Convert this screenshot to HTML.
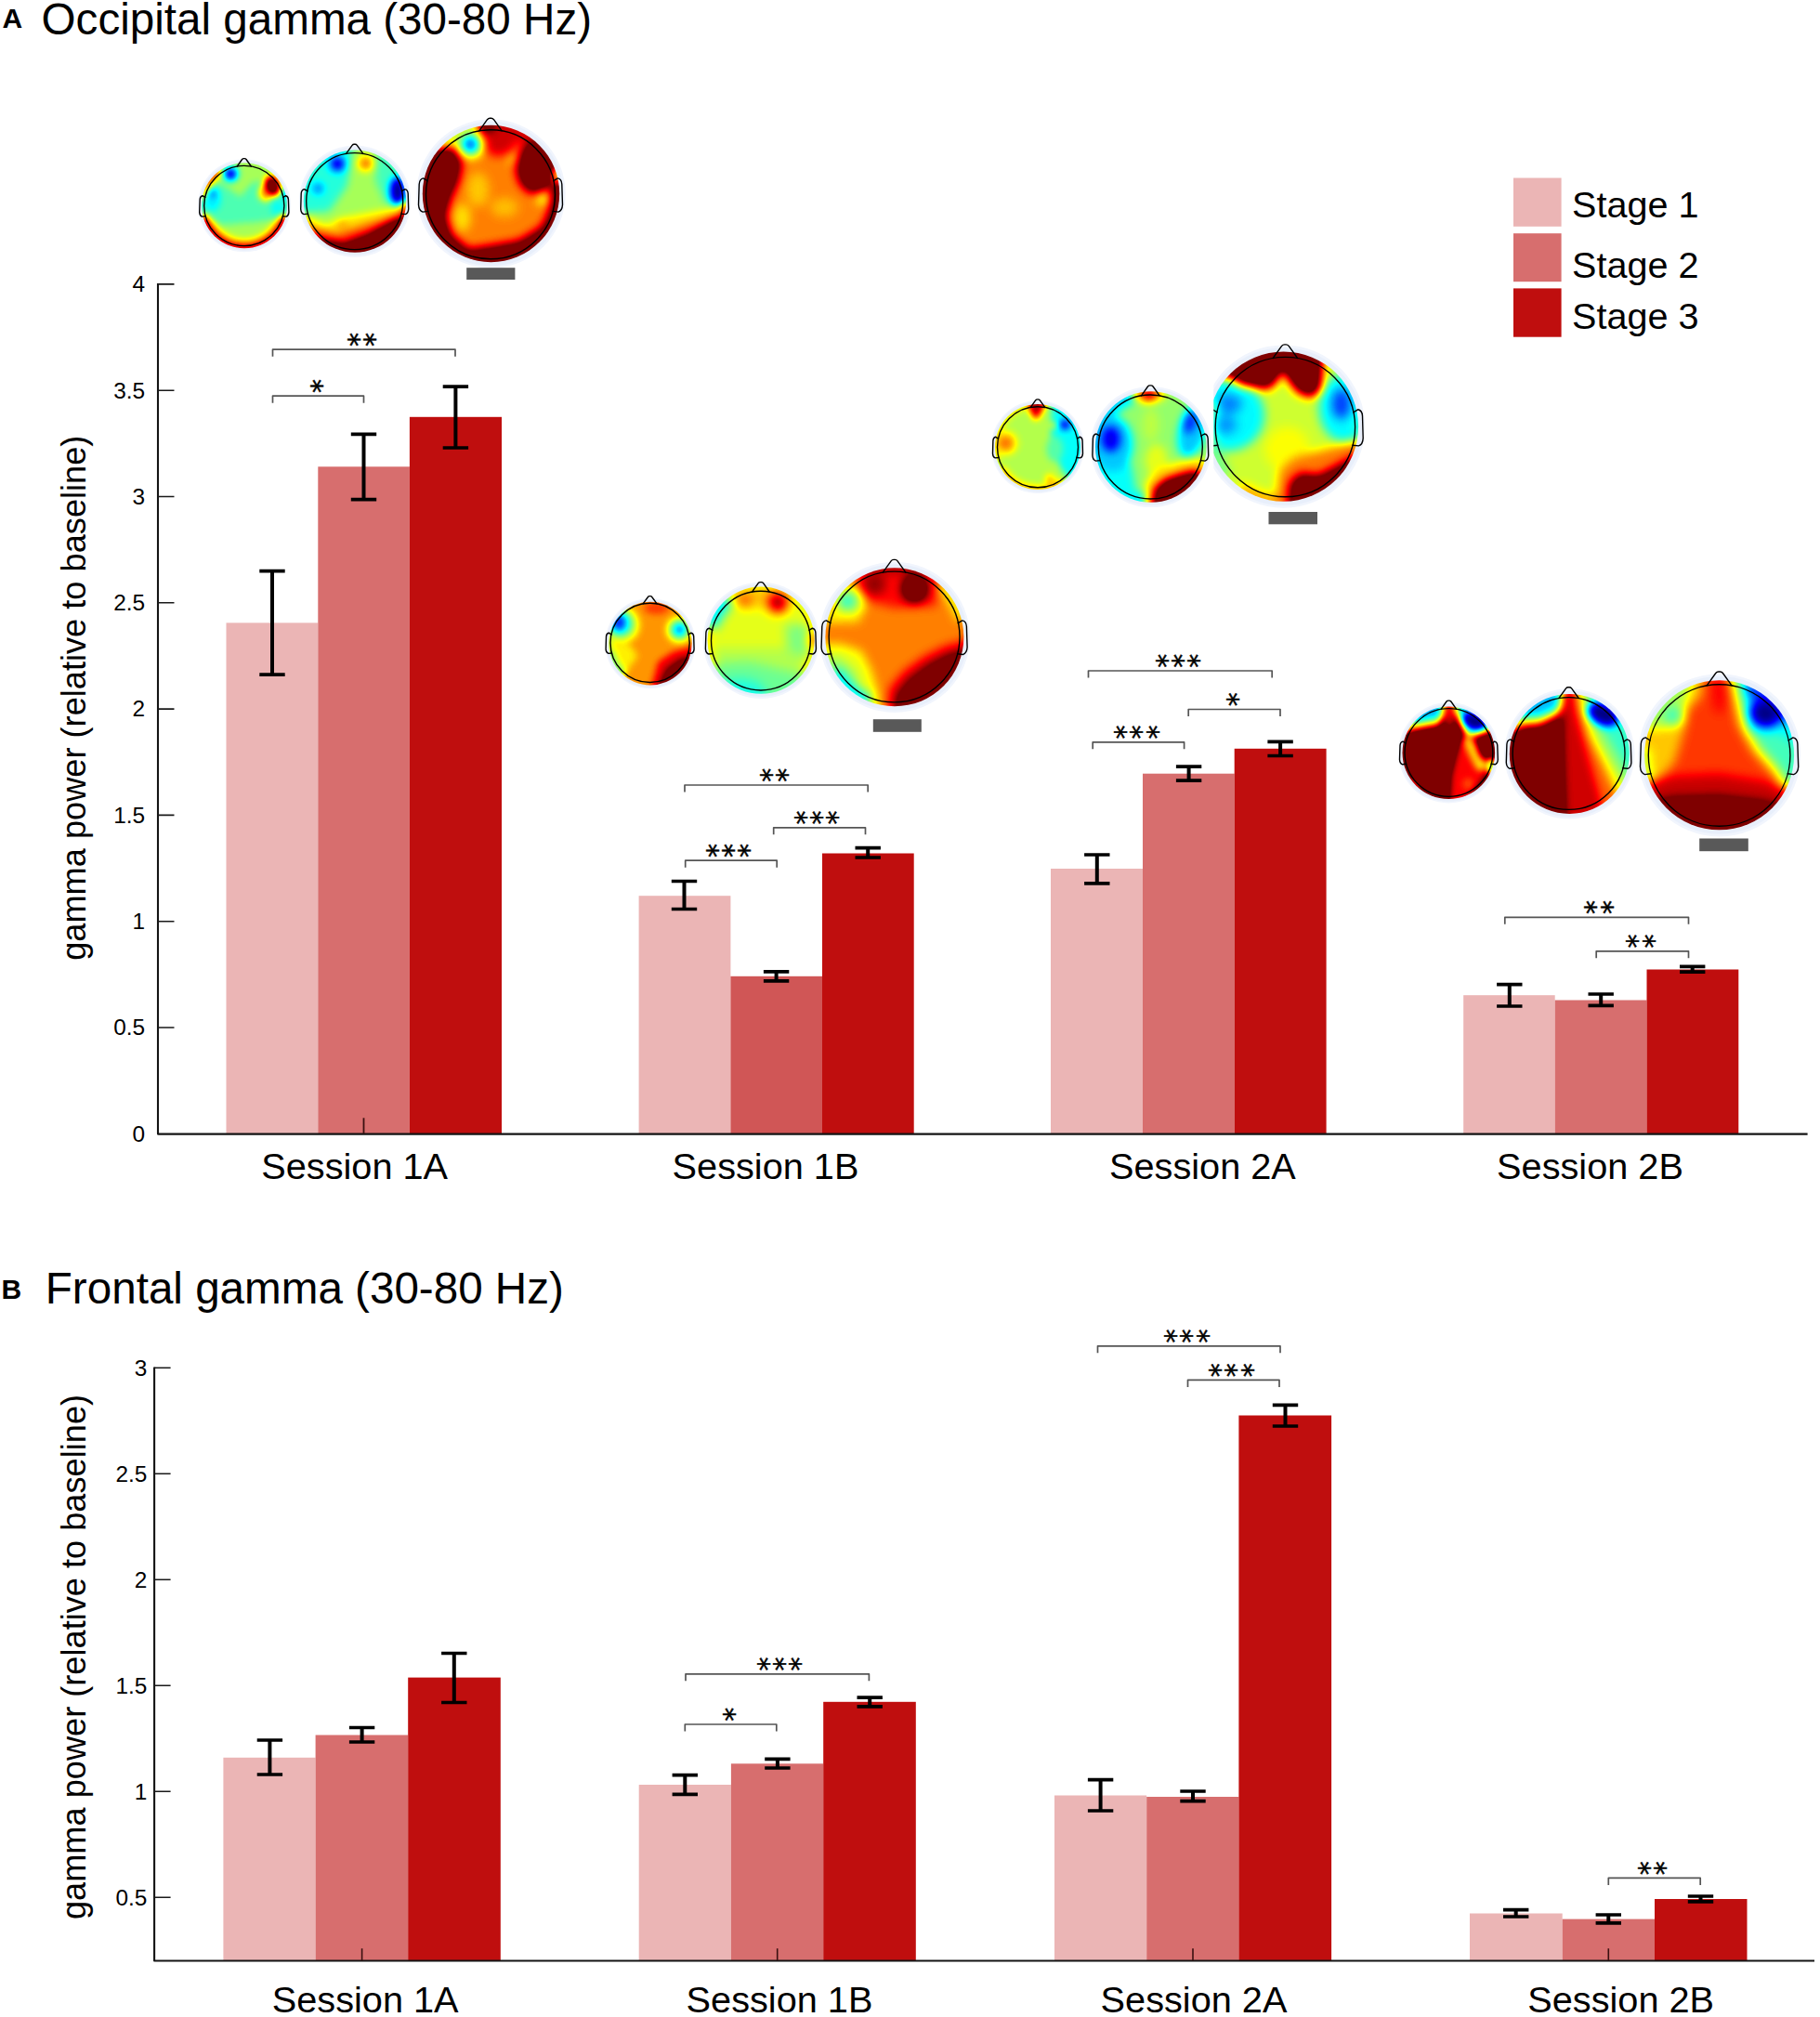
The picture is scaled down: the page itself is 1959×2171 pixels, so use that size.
<!DOCTYPE html>
<html lang="en"><head><meta charset="utf-8"><title>Occipital and frontal gamma</title>
<style>
html,body{margin:0;padding:0;background:#fff}
svg{display:block} text{font-family:'Liberation Sans', sans-serif;fill:#000}
.ttl{font-size:47.6px}.pl{font-size:30px;font-weight:bold}.ses{font-size:39.7px;text-anchor:middle}
.tk{font-size:24.4px;text-anchor:end}.yl{font-size:36.2px;text-anchor:middle}.lg{font-size:39.6px}
.st{font-family:"DejaVu Sans",sans-serif;font-size:30px;letter-spacing:2.1px;stroke:#000;stroke-width:0.5px}
</style></head><body>
<svg width="1959" height="2171" viewBox="0 0 1959 2171">
<rect width="1959" height="2171" fill="#fff"/>
<g id="panelA">
<rect x="243.5" y="670.4" width="98.8" height="549.9" fill="#ebb5b5"/>
<rect x="342.3" y="502.3" width="98.6" height="718.0" fill="#d76e6e"/>
<rect x="440.9" y="448.8" width="99.1" height="771.5" fill="#bf0e0e"/>
<rect x="687.6" y="964.2" width="98.8" height="256.1" fill="#ebb5b5"/>
<rect x="786.4" y="1050.8" width="98.6" height="169.5" fill="#d05656"/>
<rect x="885.0" y="918.5" width="98.7" height="301.8" fill="#bf0e0e"/>
<rect x="1131.0" y="935.0" width="99.0" height="285.3" fill="#ebb5b5"/>
<rect x="1230.0" y="832.7" width="98.7" height="387.6" fill="#d76e6e"/>
<rect x="1328.7" y="805.8" width="98.9" height="414.5" fill="#bf0e0e"/>
<rect x="1575.2" y="1071.2" width="98.5" height="149.1" fill="#ebb5b5"/>
<rect x="1673.7" y="1076.5" width="98.8" height="143.8" fill="#d76e6e"/>
<rect x="1772.5" y="1043.5" width="98.8" height="176.8" fill="#bf0e0e"/>
<path d="M170.0 305.1V1220.6H1945.6" stroke="#141414" stroke-width="2.1" fill="none" stroke-linejoin="round"/>
<path d="M170.0 1106.0h17.5M170.0 991.7h17.5M170.0 877.4h17.5M170.0 763.1h17.5M170.0 648.8h17.5M170.0 534.5h17.5M170.0 420.2h17.5M170.0 305.9h17.5" stroke="#1a1a1a" stroke-width="1.6" fill="none"/>
<path d="M391.5 1220.3v-17" stroke="#3a1010" stroke-width="1.8"/>
<text class="tk" x="156.2" y="1228.6">0</text>
<text class="tk" x="156.2" y="1114.3">0.5</text>
<text class="tk" x="156.2" y="1000.0">1</text>
<text class="tk" x="156.2" y="885.7">1.5</text>
<text class="tk" x="156.2" y="771.4">2</text>
<text class="tk" x="156.2" y="657.1">2.5</text>
<text class="tk" x="156.2" y="542.8">3</text>
<text class="tk" x="156.2" y="428.5">3.5</text>
<text class="tk" x="156.2" y="314.2">4</text>
<path d="M293.0 614.6V726.2" stroke="#000" stroke-width="4.0" fill="none"/>
<path d="M279.3 614.6h27.4M279.3 726.2h27.4" stroke="#000" stroke-width="3.7" fill="none"/>
<path d="M391.5 467.3V537.7" stroke="#000" stroke-width="4.0" fill="none"/>
<path d="M377.8 467.3h27.4M377.8 537.7h27.4" stroke="#000" stroke-width="3.7" fill="none"/>
<path d="M490.4 416.2V482.0" stroke="#000" stroke-width="4.0" fill="none"/>
<path d="M476.7 416.2h27.4M476.7 482.0h27.4" stroke="#000" stroke-width="3.7" fill="none"/>
<path d="M736.5 948.5V978.5" stroke="#000" stroke-width="4.0" fill="none"/>
<path d="M722.8 948.5h27.4M722.8 978.5h27.4" stroke="#000" stroke-width="3.7" fill="none"/>
<path d="M835.6 1045.8V1055.8" stroke="#000" stroke-width="4.0" fill="none"/>
<path d="M821.9 1045.8h27.4M821.9 1055.8h27.4" stroke="#000" stroke-width="3.7" fill="none"/>
<path d="M934.2 912.7V923.0" stroke="#000" stroke-width="4.0" fill="none"/>
<path d="M920.5 912.7h27.4M920.5 923.0h27.4" stroke="#000" stroke-width="3.7" fill="none"/>
<path d="M1180.8 920.0V950.8" stroke="#000" stroke-width="4.0" fill="none"/>
<path d="M1167.1 920.0h27.4M1167.1 950.8h27.4" stroke="#000" stroke-width="3.7" fill="none"/>
<path d="M1279.6 825.2V840.2" stroke="#000" stroke-width="4.0" fill="none"/>
<path d="M1265.9 825.2h27.4M1265.9 840.2h27.4" stroke="#000" stroke-width="3.7" fill="none"/>
<path d="M1378.1 798.3V813.5" stroke="#000" stroke-width="4.0" fill="none"/>
<path d="M1364.4 798.3h27.4M1364.4 813.5h27.4" stroke="#000" stroke-width="3.7" fill="none"/>
<path d="M1624.8 1059.6V1083.0" stroke="#000" stroke-width="4.0" fill="none"/>
<path d="M1611.1 1059.6h27.4M1611.1 1083.0h27.4" stroke="#000" stroke-width="3.7" fill="none"/>
<path d="M1723.2 1070.0V1082.3" stroke="#000" stroke-width="4.0" fill="none"/>
<path d="M1709.5 1070.0h27.4M1709.5 1082.3h27.4" stroke="#000" stroke-width="3.7" fill="none"/>
<path d="M1821.7 1040.4V1046.2" stroke="#000" stroke-width="4.0" fill="none"/>
<path d="M1808.0 1040.4h27.4M1808.0 1046.2h27.4" stroke="#000" stroke-width="3.7" fill="none"/>
<path d="M293.5 383.7V376.2H490.0V383.7" stroke="#555" stroke-width="1.7" fill="none" stroke-linejoin="round"/>
<text class="st" rotate="90" x="366.1" y="358.0">**</text>
<path d="M293.5 433.7V426.2H391.5V433.7" stroke="#555" stroke-width="1.7" fill="none" stroke-linejoin="round"/>
<text class="st" rotate="90" x="325.8" y="408.0">*</text>
<path d="M737.0 852.5V845.0H934.2V852.5" stroke="#555" stroke-width="1.7" fill="none" stroke-linejoin="round"/>
<text class="st" rotate="90" x="809.9" y="826.8">**</text>
<path d="M832.7 898.3V890.8H931.5V898.3" stroke="#555" stroke-width="1.7" fill="none" stroke-linejoin="round"/>
<text class="st" rotate="90" x="847.1" y="872.6">***</text>
<path d="M737.7 933.7V926.2H836.2V933.7" stroke="#555" stroke-width="1.7" fill="none" stroke-linejoin="round"/>
<text class="st" rotate="90" x="752.1" y="908.0">***</text>
<path d="M1171.5 729.5V722.0H1369.2V729.5" stroke="#555" stroke-width="1.7" fill="none" stroke-linejoin="round"/>
<text class="st" rotate="90" x="1235.6" y="703.8">***</text>
<path d="M1279.2 771.0V763.5H1378.0V771.0" stroke="#555" stroke-width="1.7" fill="none" stroke-linejoin="round"/>
<text class="st" rotate="90" x="1311.7" y="745.3">*</text>
<path d="M1176.2 806.3V798.8H1274.6V806.3" stroke="#555" stroke-width="1.7" fill="none" stroke-linejoin="round"/>
<text class="st" rotate="90" x="1191.3" y="780.6">***</text>
<path d="M1619.8 994.8V987.3H1817.5V994.8" stroke="#555" stroke-width="1.7" fill="none" stroke-linejoin="round"/>
<text class="st" rotate="90" x="1697.4" y="969.1">**</text>
<path d="M1718.2 1031.3V1023.8H1817.5V1031.3" stroke="#555" stroke-width="1.7" fill="none" stroke-linejoin="round"/>
<text class="st" rotate="90" x="1742.4" y="1005.6">**</text>
<text class="ses" x="381.7" y="1269.3">Session 1A</text>
<text class="ses" x="824.0" y="1269.3">Session 1B</text>
<text class="ses" x="1294.4" y="1269.3">Session 2A</text>
<text class="ses" x="1711.5" y="1269.3">Session 2B</text>
<text class="yl" transform="translate(91.5 751.2) rotate(-90)">gamma power (relative to baseline)</text>
<text class="pl" x="2.5" y="30.3">A</text>
<text class="ttl" x="44.6" y="37.2">Occipital gamma (30-80 Hz)</text>
<rect x="1629.0" y="191.5" width="51.6" height="52.3" fill="#ebb5b5"/>
<rect x="1629.0" y="251.2" width="51.6" height="52.0" fill="#d76e6e"/>
<rect x="1629.0" y="310.4" width="51.6" height="52.3" fill="#bf0e0e"/>
<text class="lg" x="1692" y="234.2">Stage 1</text>
<text class="lg" x="1692" y="299.2">Stage 2</text>
<text class="lg" x="1692" y="353.5">Stage 3</text>
</g>
<defs>
<filter id="fa1" filterUnits="userSpaceOnUse" x="189" y="148" width="147" height="147" color-interpolation-filters="sRGB"><feGaussianBlur stdDeviation="3.68"/><feComponentTransfer><feFuncR type="table" tableValues="0 0 0 0 0.5 1 1 1 0.5 0.5"/><feFuncG type="table" tableValues="0 0 0.5 1 1 1 0.5 0 0 0"/><feFuncB type="table" tableValues="0.52 1 1 1 0.5 0 0 0 0 0"/><feFuncA type="linear" slope="4" intercept="0"/></feComponentTransfer></filter>
<clipPath id="ca1"><circle cx="263.0" cy="221.2" r="46.0"/></clipPath>
<filter id="fa2" filterUnits="userSpaceOnUse" x="294" y="128" width="177" height="177" color-interpolation-filters="sRGB"><feGaussianBlur stdDeviation="4.42"/><feComponentTransfer><feFuncR type="table" tableValues="0 0 0 0 0.5 1 1 1 0.5 0.5"/><feFuncG type="table" tableValues="0 0 0.5 1 1 1 0.5 0 0 0"/><feFuncB type="table" tableValues="0.52 1 1 1 0.5 0 0 0 0 0"/><feFuncA type="linear" slope="4" intercept="0"/></feComponentTransfer></filter>
<clipPath id="ca2"><circle cx="382.0" cy="216.6" r="55.2"/></clipPath>
<filter id="fa3" filterUnits="userSpaceOnUse" x="411" y="91" width="236" height="236" color-interpolation-filters="sRGB"><feGaussianBlur stdDeviation="5.16"/><feComponentTransfer><feFuncR type="table" tableValues="0 0 0 0 0.5 1 1 1 0.5 0.5"/><feFuncG type="table" tableValues="0 0 0.5 1 1 1 0.5 0 0 0"/><feFuncB type="table" tableValues="0.52 1 1 1 0.5 0 0 0 0 0"/><feFuncA type="linear" slope="4" intercept="0"/></feComponentTransfer></filter>
<clipPath id="ca3"><circle cx="528.5" cy="208.5" r="73.7"/></clipPath>
<filter id="fb1" filterUnits="userSpaceOnUse" x="628" y="621" width="143" height="143" color-interpolation-filters="sRGB"><feGaussianBlur stdDeviation="3.81"/><feComponentTransfer><feFuncR type="table" tableValues="0 0 0 0 0.5 1 1 1 0.5 0.5"/><feFuncG type="table" tableValues="0 0 0.5 1 1 1 0.5 0 0 0"/><feFuncB type="table" tableValues="0.52 1 1 1 0.5 0 0 0 0 0"/><feFuncA type="linear" slope="4" intercept="0"/></feComponentTransfer></filter>
<clipPath id="cb1"><circle cx="700.0" cy="692.6" r="44.8"/></clipPath>
<filter id="fb2" filterUnits="userSpaceOnUse" x="727" y="597" width="184" height="184" color-interpolation-filters="sRGB"><feGaussianBlur stdDeviation="5.76"/><feComponentTransfer><feFuncR type="table" tableValues="0 0 0 0 0.5 1 1 1 0.5 0.5"/><feFuncG type="table" tableValues="0 0 0.5 1 1 1 0.5 0 0 0"/><feFuncB type="table" tableValues="0.52 1 1 1 0.5 0 0 0 0 0"/><feFuncA type="linear" slope="4" intercept="0"/></feComponentTransfer></filter>
<clipPath id="cb2"><circle cx="819.1" cy="689.2" r="57.6"/></clipPath>
<filter id="fb3" filterUnits="userSpaceOnUse" x="844" y="567" width="238" height="238" color-interpolation-filters="sRGB"><feGaussianBlur stdDeviation="5.22"/><feComponentTransfer><feFuncR type="table" tableValues="0 0 0 0 0.5 1 1 1 0.5 0.5"/><feFuncG type="table" tableValues="0 0 0.5 1 1 1 0.5 0 0 0"/><feFuncB type="table" tableValues="0.52 1 1 1 0.5 0 0 0 0 0"/><feFuncA type="linear" slope="4" intercept="0"/></feComponentTransfer></filter>
<clipPath id="cb3"><circle cx="962.9" cy="685.8" r="74.5"/></clipPath>
<filter id="fc1" filterUnits="userSpaceOnUse" x="1043" y="407" width="147" height="147" color-interpolation-filters="sRGB"><feGaussianBlur stdDeviation="3.91"/><feComponentTransfer><feFuncR type="table" tableValues="0 0 0 0 0.5 1 1 1 0.5 0.5"/><feFuncG type="table" tableValues="0 0 0.5 1 1 1 0.5 0 0 0"/><feFuncB type="table" tableValues="0.52 1 1 1 0.5 0 0 0 0 0"/><feFuncA type="linear" slope="4" intercept="0"/></feComponentTransfer></filter>
<clipPath id="cc1"><circle cx="1117.0" cy="481.0" r="46.0"/></clipPath>
<filter id="fc2" filterUnits="userSpaceOnUse" x="1143" y="385" width="191" height="191" color-interpolation-filters="sRGB"><feGaussianBlur stdDeviation="4.78"/><feComponentTransfer><feFuncR type="table" tableValues="0 0 0 0 0.5 1 1 1 0.5 0.5"/><feFuncG type="table" tableValues="0 0 0.5 1 1 1 0.5 0 0 0"/><feFuncB type="table" tableValues="0.52 1 1 1 0.5 0 0 0 0 0"/><feFuncA type="linear" slope="4" intercept="0"/></feComponentTransfer></filter>
<clipPath id="cc2"><circle cx="1238.8" cy="481.0" r="59.8"/></clipPath>
<filter id="fc3" filterUnits="userSpaceOnUse" x="1253" y="330" width="258" height="258" color-interpolation-filters="sRGB"><feGaussianBlur stdDeviation="5.24"/><feComponentTransfer><feFuncR type="table" tableValues="0 0 0 0 0.5 1 1 1 0.5 0.5"/><feFuncG type="table" tableValues="0 0 0.5 1 1 1 0.5 0 0 0"/><feFuncB type="table" tableValues="0.52 1 1 1 0.5 0 0 0 0 0"/><feFuncA type="linear" slope="4" intercept="0"/></feComponentTransfer></filter>
<clipPath id="kc3"><rect x="1306.3" y="368" width="181" height="181"/></clipPath>
<clipPath id="cc3"><circle cx="1381.5" cy="459.1" r="80.6"/></clipPath>
<filter id="fd1" filterUnits="userSpaceOnUse" x="1480" y="731" width="159" height="159" color-interpolation-filters="sRGB"><feGaussianBlur stdDeviation="3.49"/><feComponentTransfer><feFuncR type="table" tableValues="0 0 0 0 0.5 1 1 1 0.5 0.5"/><feFuncG type="table" tableValues="0 0 0.5 1 1 1 0.5 0 0 0"/><feFuncB type="table" tableValues="0.52 1 1 1 0.5 0 0 0 0 0"/><feFuncA type="linear" slope="4" intercept="0"/></feComponentTransfer></filter>
<clipPath id="cd1"><circle cx="1559.3" cy="810.3" r="49.8"/></clipPath>
<filter id="fd2" filterUnits="userSpaceOnUse" x="1586" y="708" width="206" height="206" color-interpolation-filters="sRGB"><feGaussianBlur stdDeviation="4.84"/><feComponentTransfer><feFuncR type="table" tableValues="0 0 0 0 0.5 1 1 1 0.5 0.5"/><feFuncG type="table" tableValues="0 0 0.5 1 1 1 0.5 0 0 0"/><feFuncB type="table" tableValues="0.52 1 1 1 0.5 0 0 0 0 0"/><feFuncA type="linear" slope="4" intercept="0"/></feComponentTransfer></filter>
<clipPath id="cd2"><circle cx="1689.3" cy="811.4" r="64.5"/></clipPath>
<filter id="fd3" filterUnits="userSpaceOnUse" x="1722" y="684" width="258" height="258" color-interpolation-filters="sRGB"><feGaussianBlur stdDeviation="5.64"/><feComponentTransfer><feFuncR type="table" tableValues="0 0 0 0 0.5 1 1 1 0.5 0.5"/><feFuncG type="table" tableValues="0 0 0.5 1 1 1 0.5 0 0 0"/><feFuncB type="table" tableValues="0.52 1 1 1 0.5 0 0 0 0 0"/><feFuncA type="linear" slope="4" intercept="0"/></feComponentTransfer></filter>
<clipPath id="cd3"><circle cx="1850.6" cy="812.8" r="80.5"/></clipPath>
</defs>
<g id="heads">
<circle cx="263.0" cy="221.2" r="50.0" fill="#f1f5fd"/>
<circle cx="263.0" cy="221.2" r="48.5" fill="#e8effb"/>
<g clip-path="url(#ca1)"><g filter="url(#fa1)">
<rect x="196.3" y="154.5" width="133.4" height="133.4" fill="#666666"/>
<polygon points="203.2,161.4 322.8,161.4 322.8,198.2 272.2,195.9 258.4,212.0 240.0,198.2 203.2,193.6" fill="#7a7a7a"/>
<polygon points="203.2,235.0 240.0,241.9 272.2,239.6 322.8,232.7 322.8,281.0 203.2,281.0" fill="#7a7a7a"/>
<path d="M307.4 233.1A46.0 46.0 0 0 1 218.6 233.1" fill="none" stroke="#dcdcdc" stroke-width="10.1"/>
<path d="M298.4 237.7A39.1 39.1 0 0 1 227.6 237.7" fill="none" stroke="#9a9a9a" stroke-width="6.0"/>
<path d="M217.7 213.2A46.0 46.0 0 0 1 236.6 183.5" fill="none" stroke="#c1c1c1" stroke-width="7.4"/>
<circle cx="248.3" cy="187.2" r="9.2" fill="#525252"/>
<circle cx="248.3" cy="187.2" r="5.5" fill="#0e0e0e"/>
<ellipse cx="228.5" cy="214.3" rx="9.2" ry="12.9" fill="#525252"/>
<circle cx="229.4" cy="208.8" r="4.6" fill="#3b3b3b"/>
<ellipse cx="286.0" cy="207.4" rx="7.4" ry="9.2" fill="#a3a3a3"/>
<ellipse cx="293.4" cy="200.0" rx="7.4" ry="10.6" fill="#ffffff" transform="rotate(-20 293.4 200.0)"/>
<circle cx="307.6" cy="209.7" r="4.1" fill="#393939"/>
<ellipse cx="298.9" cy="223.5" rx="7.4" ry="8.3" fill="#565656"/>
</g></g>
<g fill="none" stroke="#000" stroke-width="1.4" stroke-linejoin="round" stroke-linecap="round"><circle cx="262.8" cy="221.5" r="43.1"/><path d="M255.3 179.0L260.6 171.5Q261.3 170.6 262.4 170.6L263.2 170.6Q264.3 170.6 265.0 171.5L270.3 179.0M220.8 212.4L218.0 210.7Q215.4 211.2 215.2 214.6L214.7 228.4Q215.0 232.3 217.5 233.1L221.2 232.7M304.8 212.4L307.6 210.7Q310.2 211.2 310.4 214.6L310.9 228.4Q310.6 232.3 308.1 233.1L304.4 232.7"/></g>
<circle cx="382.0" cy="216.6" r="60.1" fill="#f1f5fd"/>
<circle cx="382.0" cy="216.6" r="58.2" fill="#e8effb"/>
<g clip-path="url(#ca2)"><g filter="url(#fa2)">
<rect x="302.0" y="136.6" width="160.1" height="160.1" fill="#7a7a7a"/>
<polygon points="310.2,144.8 382.0,144.8 373.7,200.0 354.4,227.6 310.2,230.4" fill="#5d5d5d"/>
<polygon points="406.8,144.8 404.1,194.5 415.1,219.4 453.8,216.6 453.8,144.8" fill="#646464"/>
<polygon points="310.2,227.6 330.1,232.1 350.0,242.5 369.9,234.3 396.4,229.3 416.2,225.4 453.8,217.7 453.8,288.4 310.2,288.4" fill="#969696"/>
<polygon points="321.3,241.4 336.7,245.9 363.2,251.9 389.7,243.6 416.2,234.8 453.8,222.1 453.8,288.4 321.3,288.4" fill="#bababa"/>
<polygon points="332.3,250.8 343.4,257.4 369.9,261.9 396.4,251.9 422.8,237.6 453.8,224.9 453.8,288.4 332.3,288.4" fill="#ffffff"/>
<circle cx="368.2" cy="241.4" r="4.4" fill="#a8a8a8"/>
<circle cx="363.2" cy="176.3" r="11.0" fill="#4b4b4b"/>
<circle cx="363.2" cy="176.3" r="6.6" fill="#0b0b0b"/>
<circle cx="393.6" cy="175.8" r="9.9" fill="#919191"/>
<circle cx="393.6" cy="175.8" r="5.5" fill="#b5b5b5"/>
<circle cx="342.3" cy="202.8" r="6.1" fill="#363636"/>
<ellipse cx="427.8" cy="205.6" rx="7.7" ry="14.9" fill="#000000"/>
<circle cx="435.5" cy="223.2" r="4.4" fill="#cccccc"/>
</g></g>
<g fill="none" stroke="#000" stroke-width="1.4" stroke-linejoin="round" stroke-linecap="round"><circle cx="381.7" cy="216.6" r="52.0"/><path d="M372.6 165.4L379.1 156.3Q379.9 155.2 381.2 155.2L382.2 155.2Q383.5 155.2 384.3 156.3L390.8 165.4M331.0 205.7L327.6 203.6Q324.5 204.1 324.2 208.3L323.7 224.9Q324.0 229.6 327.1 230.6L331.5 230.1M432.4 205.7L435.8 203.6Q438.9 204.1 439.2 208.3L439.7 224.9Q439.4 229.6 436.3 230.6L431.9 230.1"/></g>
<circle cx="528.5" cy="208.5" r="80.2" fill="#f1f5fd"/>
<circle cx="528.5" cy="208.5" r="77.8" fill="#e8effb"/>
<g clip-path="url(#ca3)"><g filter="url(#fa3)">
<rect x="421.6" y="101.6" width="213.7" height="213.7" fill="#aaaaaa"/>
<circle cx="528.5" cy="208.5" r="73.7" fill="none" stroke="#ffffff" stroke-width="16.2"/>
<path d="M470.4 163.1A73.7 73.7 0 0 1 515.7 135.9" fill="none" stroke="#888888" stroke-width="22.1"/>
<path d="M531.1 134.8A73.7 73.7 0 0 1 588.9 166.2" fill="none" stroke="#d1d1d1" stroke-width="20.6"/>
<polygon points="432.7,164.3 487.2,158.4 496.8,174.6 493.1,194.5 484.3,213.7 479.1,233.6 485.8,253.5 504.2,268.9 432.7,304.3" fill="#ffffff"/>
<polygon points="484.3,260.1 504.2,268.9 528.5,265.2 558.7,260.1 583.0,245.3 594.8,229.1 624.3,230.6 624.3,304.3 484.3,304.3" fill="#ffffff"/>
<ellipse cx="576.4" cy="180.5" rx="19.9" ry="27.3" fill="#ffffff"/>
<ellipse cx="537.3" cy="153.2" rx="18.4" ry="14.7" fill="#d1d1d1"/>
<ellipse cx="514.5" cy="204.1" rx="11.8" ry="18.4" fill="#9a9a9a"/>
<ellipse cx="497.5" cy="234.3" rx="8.8" ry="14.7" fill="#939393"/>
<ellipse cx="543.2" cy="223.2" rx="14.7" ry="10.3" fill="#9c9c9c"/>
<circle cx="506.4" cy="155.4" r="15.5" fill="#838383"/>
<circle cx="506.4" cy="155.4" r="10.3" fill="#525252"/>
<circle cx="506.4" cy="155.4" r="5.9" fill="#1b1b1b"/>
<circle cx="552.1" cy="170.2" r="6.6" fill="#969696"/>
<circle cx="584.5" cy="213.7" r="9.6" fill="#a3a3a3"/>
<circle cx="584.5" cy="213.7" r="5.2" fill="#7d7d7d"/>
<ellipse cx="600.0" cy="188.6" rx="3.7" ry="8.8" fill="#2d2d2d"/>
</g></g>
<g fill="none" stroke="#000" stroke-width="1.4" stroke-linejoin="round" stroke-linecap="round"><circle cx="528.0" cy="209.3" r="69.5"/><path d="M515.8 140.8L524.5 128.7Q525.6 127.3 527.3 127.3L528.7 127.3Q530.4 127.3 531.5 128.7L540.2 140.8M460.2 194.7L455.7 191.9Q451.6 192.6 451.2 198.2L450.5 220.4Q450.9 226.7 455.0 228.1L460.9 227.4M595.8 194.7L600.3 191.9Q604.5 192.6 604.8 198.2L605.5 220.4Q605.1 226.7 601.0 228.1L595.1 227.4"/></g>
<circle cx="700.0" cy="692.6" r="48.7" fill="#f1f5fd"/>
<circle cx="700.0" cy="692.6" r="47.3" fill="#e8effb"/>
<g clip-path="url(#cb1)"><g filter="url(#fb1)">
<rect x="635.0" y="627.6" width="129.9" height="129.9" fill="#a5a5a5"/>
<polygon points="641.8,692.6 677.6,693.5 686.6,706.0 673.1,724.0 641.8,737.4" fill="#919191"/>
<path d="M671.2 726.9A44.8 44.8 0 0 1 655.9 700.4" fill="none" stroke="#717171" stroke-width="9.9"/>
<path d="M655.4 696.5A44.8 44.8 0 0 1 657.9 677.3" fill="none" stroke="#717171" stroke-width="6.3"/>
<ellipse cx="668.6" cy="672.4" rx="20.2" ry="20.2" fill="#888888"/>
<ellipse cx="667.7" cy="671.5" rx="13.4" ry="13.4" fill="#5b5b5b"/>
<ellipse cx="666.4" cy="670.2" rx="6.7" ry="8.1" fill="#242424"/>
<ellipse cx="731.4" cy="677.8" rx="14.8" ry="14.8" fill="#888888"/>
<ellipse cx="731.4" cy="677.8" rx="9.9" ry="9.9" fill="#5f5f5f"/>
<circle cx="731.4" cy="677.8" r="4.5" fill="#363636"/>
<ellipse cx="706.7" cy="654.5" rx="13.4" ry="6.7" fill="#bababa"/>
<polygon points="697.8,750.8 708.5,712.3 724.6,701.6 758.2,692.6 758.2,750.8" fill="#cccccc"/>
<polygon points="704.5,750.8 717.9,720.4 733.6,709.6 758.2,706.0 758.2,750.8" fill="#f9f9f9"/>
</g></g>
<g fill="none" stroke="#000" stroke-width="1.4" stroke-linejoin="round" stroke-linecap="round"><circle cx="699.6" cy="691.9" r="42.6"/><path d="M692.1 649.9L697.5 642.5Q698.1 641.6 699.2 641.6L700.0 641.6Q701.1 641.6 701.7 642.5L707.1 649.9M658.1 683.0L655.3 681.2Q652.7 681.7 652.5 685.1L652.1 698.7Q652.3 702.5 654.9 703.4L658.5 703.0M741.1 683.0L743.9 681.2Q746.5 681.7 746.7 685.1L747.1 698.7Q746.9 702.5 744.3 703.4L740.7 703.0"/></g>
<circle cx="819.1" cy="689.2" r="62.7" fill="#f1f5fd"/>
<circle cx="819.1" cy="689.2" r="60.8" fill="#e8effb"/>
<g clip-path="url(#cb2)"><g filter="url(#fb2)">
<rect x="735.6" y="605.7" width="167.0" height="167.0" fill="#888888"/>
<polygon points="744.2,697.8 894.0,697.8 894.0,764.1 744.2,764.1" fill="#7d7d7d"/>
<polygon points="744.2,715.1 807.6,712.2 853.7,723.8 894.0,741.0 894.0,764.1 744.2,764.1" fill="#6d6d6d"/>
<ellipse cx="796.1" cy="746.8" rx="28.8" ry="16.1" fill="#5b5b5b"/>
<polygon points="845.0,671.9 870.9,671.9 870.9,706.5 847.9,700.7" fill="#717171"/>
<path d="M763.5 674.3A57.6 57.6 0 0 1 783.6 643.8" fill="none" stroke="#525252" stroke-width="18.4"/>
<path d="M769.2 718.0A57.6 57.6 0 0 1 763.5 674.3" fill="none" stroke="#969696" stroke-width="6.9"/>
<path d="M869.0 660.4A57.6 57.6 0 0 1 866.3 722.2" fill="none" stroke="#9a9a9a" stroke-width="6.9"/>
<ellipse cx="819.1" cy="643.1" rx="35.7" ry="11.5" fill="#9a9a9a"/>
<circle cx="801.8" cy="646.6" r="7.5" fill="#b5b5b5"/>
<ellipse cx="837.0" cy="648.3" rx="13.8" ry="13.8" fill="#a8a8a8"/>
<ellipse cx="837.0" cy="648.3" rx="8.1" ry="8.6" fill="#e7e7e7"/>
<circle cx="875.5" cy="689.2" r="4.6" fill="#d7d7d7"/>
</g></g>
<g fill="none" stroke="#000" stroke-width="1.4" stroke-linejoin="round" stroke-linecap="round"><circle cx="818.9" cy="689.6" r="53.4"/><path d="M809.6 637.0L816.2 627.7Q817.0 626.6 818.4 626.6L819.4 626.6Q820.8 626.6 821.6 627.7L828.2 637.0M766.8 678.4L763.4 676.2Q760.2 676.8 759.9 681.1L759.4 698.1Q759.6 703.0 762.8 704.0L767.4 703.5M871.0 678.4L874.4 676.2Q877.6 676.8 877.9 681.1L878.4 698.1Q878.2 703.0 875.0 704.0L870.4 703.5"/></g>
<circle cx="962.9" cy="685.8" r="81.1" fill="#f1f5fd"/>
<circle cx="962.9" cy="685.8" r="78.6" fill="#e8effb"/>
<g clip-path="url(#cb3)"><g filter="url(#fb3)">
<rect x="854.9" y="577.8" width="216.0" height="216.0" fill="#aaaaaa"/>
<path d="M982.2 613.8A74.5 74.5 0 0 1 1034.9 666.5" fill="none" stroke="#8d8d8d" stroke-width="11.9"/>
<polygon points="918.2,588.9 925.6,644.8 962.9,654.5 1007.6,652.3 1015.0,588.9" fill="#c5c5c5"/>
<ellipse cx="913.7" cy="648.5" rx="17.9" ry="17.9" fill="#838383"/>
<ellipse cx="912.2" cy="647.1" rx="8.9" ry="9.7" fill="#5f5f5f"/>
<polygon points="866.0,656.0 925.6,659.7 925.6,669.4 866.0,670.9" fill="#8f8f8f"/>
<polygon points="866.0,693.2 904.8,693.2 927.1,700.7 938.3,723.0 946.5,752.8 944.3,782.6 866.0,782.6" fill="#8a8a8a"/>
<polygon points="866.0,709.6 903.3,706.7 921.9,723.0 931.6,782.6 866.0,782.6" fill="#767676"/>
<path d="M935.0 754.9A74.5 74.5 0 0 1 898.4 723.0" fill="none" stroke="#525252" stroke-width="14.9"/>
<ellipse cx="984.5" cy="633.6" rx="14.2" ry="14.9" fill="#ffffff"/>
<ellipse cx="941.3" cy="629.2" rx="12.7" ry="11.2" fill="#dedede"/>
<ellipse cx="962.9" cy="611.3" rx="37.2" ry="7.5" fill="#d7d7d7"/>
<polygon points="954.0,782.6 957.7,740.9 972.6,723.0 994.9,706.7 1017.3,695.5 1059.8,684.3 1059.8,782.6" fill="#d1d1d1"/>
<polygon points="965.1,782.6 966.6,749.9 979.3,733.5 1000.1,717.8 1021.0,706.7 1059.8,695.5 1059.8,782.6" fill="#ffffff"/>
</g></g>
<g fill="none" stroke="#000" stroke-width="1.4" stroke-linejoin="round" stroke-linecap="round"><circle cx="962.6" cy="685.5" r="70.4"/><path d="M950.3 616.2L959.1 603.8Q960.1 602.4 961.9 602.4L963.3 602.4Q965.1 602.4 966.1 603.8L974.9 616.2M894.0 670.7L889.4 667.9Q885.2 668.6 884.8 674.2L884.1 696.8Q884.5 703.1 888.7 704.5L894.7 703.8M1031.2 670.7L1035.8 667.9Q1040.0 668.6 1040.4 674.2L1041.1 696.8Q1040.7 703.1 1036.5 704.5L1030.5 703.8"/></g>
<circle cx="1117.0" cy="481.0" r="50.0" fill="#f1f5fd"/>
<circle cx="1117.0" cy="481.0" r="48.5" fill="#e8effb"/>
<g clip-path="url(#cc1)"><g filter="url(#fc1)">
<rect x="1050.3" y="414.3" width="133.4" height="133.4" fill="#7d7d7d"/>
<polygon points="1133.1,421.2 1130.8,462.6 1133.1,485.6 1144.6,508.6 1158.4,522.4 1176.8,522.4 1176.8,421.2" fill="#565656"/>
<ellipse cx="1135.4" cy="483.3" rx="9.2" ry="13.8" fill="#686868"/>
<circle cx="1146.4" cy="457.1" r="5.5" fill="#171717"/>
<polygon points="1103.2,421.2 1107.8,440.5 1115.2,452.5 1122.5,440.5 1128.5,421.2" fill="#dcdcdc"/>
<circle cx="1082.5" cy="476.9" r="13.8" fill="#8f8f8f"/>
<circle cx="1082.5" cy="476.9" r="7.8" fill="#acacac"/>
<path d="M1143.4 518.7A46.0 46.0 0 0 1 1077.2 504.0" fill="none" stroke="#9f9f9f" stroke-width="8.3"/>
<path d="M1073.8 496.7A46.0 46.0 0 0 1 1109.0 435.7" fill="none" stroke="#969696" stroke-width="5.5"/>
<circle cx="1129.9" cy="515.5" r="5.1" fill="#9f9f9f"/>
<circle cx="1134.0" cy="458.0" r="3.2" fill="#8d8d8d"/>
</g></g>
<g fill="none" stroke="#000" stroke-width="1.4" stroke-linejoin="round" stroke-linecap="round"><circle cx="1117.0" cy="481.2" r="43.5"/><path d="M1109.4 438.4L1114.8 430.7Q1115.5 429.9 1116.6 429.9L1117.4 429.9Q1118.5 429.9 1119.2 430.7L1124.6 438.4M1074.6 472.1L1071.8 470.3Q1069.2 470.8 1068.9 474.2L1068.5 488.2Q1068.7 492.1 1071.3 492.9L1075.0 492.5M1159.4 472.1L1162.2 470.3Q1164.8 470.8 1165.1 474.2L1165.5 488.2Q1165.3 492.1 1162.7 492.9L1159.0 492.5"/></g>
<circle cx="1238.8" cy="481.0" r="65.1" fill="#f1f5fd"/>
<circle cx="1238.8" cy="481.0" r="63.1" fill="#e8effb"/>
<g clip-path="url(#cc2)"><g filter="url(#fc2)">
<rect x="1152.1" y="394.3" width="173.4" height="173.4" fill="#767676"/>
<path d="M1233.6 540.6A59.8 59.8 0 0 1 1218.3 424.8" fill="none" stroke="#4b4b4b" stroke-width="17.9"/>
<polygon points="1161.1,493.0 1217.9,498.9 1226.8,558.7 1161.1,558.7" fill="#565656"/>
<ellipse cx="1198.1" cy="478.0" rx="21.5" ry="29.9" fill="#494949"/>
<ellipse cx="1195.7" cy="472.6" rx="10.2" ry="13.8" fill="#171717"/>
<ellipse cx="1283.6" cy="463.1" rx="14.9" ry="29.9" fill="#494949" transform="rotate(15 1283.6 463.1)"/>
<ellipse cx="1280.7" cy="454.7" rx="6.0" ry="12.0" fill="#202020" transform="rotate(15 1280.7 454.7)"/>
<ellipse cx="1244.8" cy="495.9" rx="12.0" ry="17.9" fill="#888888"/>
<ellipse cx="1238.8" cy="457.1" rx="9.0" ry="17.9" fill="#7f7f7f"/>
<ellipse cx="1236.4" cy="424.2" rx="17.9" ry="9.0" fill="#9f9f9f"/>
<circle cx="1236.4" cy="424.2" r="7.2" fill="#d7d7d7"/>
<polygon points="1229.8,558.7 1234.0,516.9 1249.6,503.7 1271.7,495.9 1289.6,493.0 1316.5,504.9 1316.5,558.7" fill="#9a9a9a"/>
<polygon points="1238.8,558.7 1243.0,525.9 1254.3,516.3 1273.5,509.7 1286.6,506.7 1298.6,514.5 1316.5,520.5 1316.5,558.7" fill="#ffffff"/>
</g></g>
<g fill="none" stroke="#000" stroke-width="1.4" stroke-linejoin="round" stroke-linecap="round"><circle cx="1238.3" cy="481.0" r="56.0"/><path d="M1228.5 425.8L1235.5 416.0Q1236.3 414.9 1237.7 414.9L1238.9 414.9Q1240.3 414.9 1241.1 416.0L1248.1 425.8M1183.7 469.2L1180.1 467.0Q1176.7 467.6 1176.4 472.0L1175.9 490.0Q1176.1 495.0 1179.5 496.1L1184.3 495.6M1292.9 469.2L1296.5 467.0Q1299.9 467.6 1300.2 472.0L1300.7 490.0Q1300.5 495.0 1297.1 496.1L1292.3 495.6"/></g>
<g clip-path="url(#kc3)">
<circle cx="1381.5" cy="459.1" r="87.7" fill="#f1f5fd"/>
<circle cx="1381.5" cy="459.1" r="85.0" fill="#e8effb"/>
<g clip-path="url(#cc3)"><g filter="url(#fc3)">
<rect x="1264.6" y="342.2" width="233.7" height="233.7" fill="#838383"/>
<ellipse cx="1385.5" cy="483.3" rx="24.2" ry="24.2" fill="#8d8d8d"/>
<ellipse cx="1321.0" cy="447.0" rx="40.3" ry="38.7" fill="#545454"/>
<ellipse cx="1321.9" cy="434.9" rx="14.5" ry="10.5" fill="#393939"/>
<ellipse cx="1318.6" cy="457.5" rx="12.9" ry="9.7" fill="#3d3d3d"/>
<ellipse cx="1446.0" cy="439.0" rx="26.6" ry="36.3" fill="#545454"/>
<ellipse cx="1443.6" cy="434.9" rx="9.7" ry="16.1" fill="#292929"/>
<path d="M1319.8 510.9A80.6 80.6 0 0 1 1305.8 431.5" fill="none" stroke="#6d6d6d" stroke-width="14.5"/>
<path d="M1461.3 447.9A80.6 80.6 0 0 1 1458.2 484.0" fill="none" stroke="#5b5b5b" stroke-width="11.3"/>
<polygon points="1292.8,398.7 1323.5,405.9 1337.2,414.8 1365.4,418.8 1375.1,409.1 1380.7,397.8 1387.9,410.7 1397.6,422.8 1411.7,427.7 1421.8,418.8 1423.4,393.0 1423.4,354.3 1292.8,354.3" fill="#ffffff"/>
<path d="M1374.5 539.4A80.6 80.6 0 0 1 1335.3 525.1" fill="none" stroke="#a8a8a8" stroke-width="11.3"/>
<polygon points="1371.0,563.9 1376.7,507.5 1392.0,493.0 1418.6,485.7 1452.4,476.8 1486.3,467.2 1486.3,563.9" fill="#acacac"/>
<polygon points="1385.5,563.9 1388.8,520.4 1399.2,509.9 1419.4,512.3 1436.3,503.4 1454.0,493.8 1486.3,485.7 1486.3,563.9" fill="#ffffff"/>
</g></g>
</g>
<g clip-path="url(#kc3)" fill="none" stroke="#000" stroke-width="1.4" stroke-linejoin="round" stroke-linecap="round"><circle cx="1383.4" cy="459.6" r="75.2"/><path d="M1370.2 385.5L1379.6 372.4Q1380.8 370.9 1382.6 370.9L1384.2 370.9Q1386.0 370.9 1387.2 372.4L1396.6 385.5M1310.1 443.8L1305.2 440.8Q1300.7 441.6 1300.3 447.6L1299.6 471.6Q1299.9 478.4 1304.4 479.9L1310.8 479.2M1456.7 443.8L1461.6 440.8Q1466.1 441.6 1466.5 447.6L1467.2 471.6Q1466.9 478.4 1462.4 479.9L1456.0 479.2"/></g>
<circle cx="1559.3" cy="810.3" r="54.2" fill="#f1f5fd"/>
<circle cx="1559.3" cy="810.3" r="52.5" fill="#e8effb"/>
<g clip-path="url(#cd1)"><g filter="url(#fd1)">
<rect x="1487.1" y="738.1" width="144.4" height="144.4" fill="#ffffff"/>
<polygon points="1494.6,745.6 1557.8,745.6 1554.3,770.5 1548.3,780.4 1521.5,785.4 1494.6,794.4" fill="#888888"/>
<polygon points="1504.5,745.6 1554.3,745.6 1549.3,772.5 1520.5,777.9" fill="#444444"/>
<ellipse cx="1560.3" cy="769.5" rx="5.0" ry="14.9" fill="#cccccc"/>
<polygon points="1561.8,745.6 1565.3,766.5 1578.2,793.9 1589.2,792.9 1604.1,787.4 1624.0,785.4 1624.0,745.6" fill="#8d8d8d"/>
<polygon points="1567.3,745.6 1570.3,766.5 1581.2,788.4 1590.2,787.4 1604.1,781.4 1624.0,780.4 1624.0,745.6" fill="#4d4d4d"/>
<ellipse cx="1586.7" cy="776.4" rx="12.9" ry="8.5" fill="#000000" transform="rotate(20 1586.7 776.4)"/>
<polygon points="1571.8,797.8 1584.2,800.3 1596.6,820.3 1599.1,835.2 1584.2,855.1 1569.3,875.0 1559.3,875.0 1561.8,835.2 1566.8,815.3" fill="#c7c7c7"/>
<polygon points="1573.2,793.4 1586.7,795.4 1592.2,810.3 1601.1,827.2 1589.2,828.2 1580.2,810.3" fill="#969696"/>
<ellipse cx="1596.2" cy="823.7" rx="3.5" ry="7.0" fill="#8d8d8d" transform="rotate(10 1596.2 823.7)"/>
<ellipse cx="1599.1" cy="800.8" rx="7.0" ry="6.5" fill="#ffffff"/>
<ellipse cx="1605.6" cy="825.2" rx="4.0" ry="10.0" fill="#525252"/>
<circle cx="1580.2" cy="843.7" r="6.0" fill="#b5b5b5"/>
<path d="M1530.7 851.1A49.8 49.8 0 0 1 1516.2 835.2" fill="none" stroke="#b5b5b5" stroke-width="6.0"/>
</g></g>
<g fill="none" stroke="#000" stroke-width="1.4" stroke-linejoin="round" stroke-linecap="round"><circle cx="1559.4" cy="810.0" r="47.4"/><path d="M1551.1 763.3L1557.0 755.0Q1557.7 754.1 1558.9 754.1L1559.9 754.1Q1561.1 754.1 1561.8 755.0L1567.7 763.3M1513.2 800.0L1510.1 798.1Q1507.3 798.6 1507.0 802.4L1506.5 817.6Q1506.8 821.9 1509.6 822.8L1513.7 822.3M1605.6 800.0L1608.7 798.1Q1611.5 798.6 1611.8 802.4L1612.3 817.6Q1612.0 821.9 1609.2 822.8L1605.1 822.3"/></g>
<circle cx="1689.3" cy="811.4" r="70.2" fill="#f1f5fd"/>
<circle cx="1689.3" cy="811.4" r="68.0" fill="#e8effb"/>
<g clip-path="url(#cd2)"><g filter="url(#fd2)">
<rect x="1595.8" y="717.9" width="187.0" height="187.0" fill="#ffffff"/>
<polygon points="1605.5,727.5 1687.4,727.5 1682.8,756.6 1677.0,770.8 1657.0,780.4 1640.3,781.7 1605.5,797.2" fill="#8a8a8a"/>
<polygon points="1618.3,727.5 1684.1,727.5 1677.7,762.4 1657.0,771.4 1632.5,772.7" fill="#464646"/>
<polygon points="1681.6,727.5 1681.6,779.1 1682.8,830.8 1685.4,895.2 1773.1,895.2 1773.1,727.5" fill="#d1d1d1"/>
<polygon points="1691.9,727.5 1695.8,766.2 1708.6,811.4 1721.5,856.5 1729.3,895.2 1773.1,895.2 1773.1,727.5" fill="#b1b1b1"/>
<polygon points="1695.8,727.5 1699.6,756.6 1709.9,792.0 1725.4,823.7 1735.7,846.2 1750.6,875.9 1773.1,875.9 1773.1,727.5" fill="#8d8d8d"/>
<polygon points="1700.9,727.5 1708.6,763.0 1720.3,795.3 1734.5,821.1 1747.3,843.6 1773.1,856.5 1773.1,727.5" fill="#747474"/>
<polygon points="1708.6,727.5 1721.5,779.1 1734.5,798.5 1750.6,827.5 1773.1,837.2 1773.1,727.5" fill="#616161"/>
<ellipse cx="1725.4" cy="768.8" rx="17.4" ry="11.6" fill="#000000" transform="rotate(25 1725.4 768.8)"/>
</g></g>
<g fill="none" stroke="#000" stroke-width="1.4" stroke-linejoin="round" stroke-linecap="round"><circle cx="1688.6" cy="811.0" r="60.4"/><path d="M1678.0 751.5L1685.6 740.9Q1686.5 739.7 1688.0 739.7L1689.2 739.7Q1690.7 739.7 1691.6 740.9L1699.2 751.5M1629.7 798.3L1625.8 795.9Q1622.2 796.5 1621.9 801.3L1621.3 820.7Q1621.6 826.1 1625.2 827.3L1630.3 826.7M1747.5 798.3L1751.4 795.9Q1755.0 796.5 1755.3 801.3L1755.9 820.7Q1755.6 826.1 1752.0 827.3L1746.9 826.7"/></g>
<circle cx="1850.6" cy="812.8" r="87.6" fill="#f1f5fd"/>
<circle cx="1850.6" cy="812.8" r="84.9" fill="#e8effb"/>
<g clip-path="url(#cd3)"><g filter="url(#fd3)">
<rect x="1733.9" y="696.1" width="233.4" height="233.4" fill="#bababa"/>
<polygon points="1745.9,708.1 1834.5,708.1 1832.1,748.4 1816.8,764.5 1812.0,788.6 1802.3,820.8 1787.8,836.9 1745.9,853.0" fill="#9a9a9a"/>
<polygon points="1745.9,708.1 1826.4,708.1 1818.4,744.4 1806.3,779.0 1790.2,783.8 1745.9,784.6" fill="#7a7a7a"/>
<circle cx="1801.5" cy="770.9" r="10.5" fill="#646464"/>
<path d="M1780.9 853.0A80.5 80.5 0 0 1 1770.4 805.8" fill="none" stroke="#7d7d7d" stroke-width="11.3"/>
<ellipse cx="1850.6" cy="744.4" rx="8.1" ry="24.1" fill="#c7c7c7"/>
<polygon points="1855.4,708.1 1863.5,742.8 1871.5,780.6 1886.8,808.8 1901.3,824.9 1911.0,836.1 1917.4,852.2 1931.1,885.2 1955.2,885.2 1955.2,708.1" fill="#8d8d8d"/>
<polygon points="1863.5,708.1 1870.7,742.8 1879.6,776.6 1894.9,804.8 1911.0,822.5 1923.0,841.0 1955.2,853.0 1955.2,708.1" fill="#646464"/>
<polygon points="1874.8,708.1 1882.8,788.6 1915.0,788.6 1955.2,812.8 1955.2,708.1" fill="#525252"/>
<ellipse cx="1905.3" cy="754.8" rx="32.2" ry="11.3" fill="#242424" transform="rotate(38 1905.3 754.8)"/>
<ellipse cx="1899.7" cy="768.5" rx="16.1" ry="13.7" fill="#000000" transform="rotate(20 1899.7 768.5)"/>
<polygon points="1745.9,849.0 1802.3,835.3 1850.6,832.9 1898.9,841.0 1955.2,861.1 1955.2,917.4 1745.9,917.4" fill="#d3d3d3"/>
<polygon points="1745.9,873.2 1799.1,859.5 1850.6,857.9 1898.1,863.5 1955.2,881.2 1955.2,917.4 1745.9,917.4" fill="#ffffff"/>
</g></g>
<g fill="none" stroke="#000" stroke-width="1.4" stroke-linejoin="round" stroke-linecap="round"><circle cx="1850.6" cy="813.0" r="76.3"/><path d="M1837.2 737.8L1846.8 724.5Q1847.9 723.0 1849.8 723.0L1851.4 723.0Q1853.3 723.0 1854.4 724.5L1864.0 737.8M1776.2 797.0L1771.2 793.9Q1766.7 794.7 1766.3 800.8L1765.5 825.2Q1765.9 832.1 1770.5 833.6L1777.0 832.8M1925.0 797.0L1930.0 793.9Q1934.5 794.7 1934.9 800.8L1935.7 825.2Q1935.3 832.1 1930.7 833.6L1924.2 832.8"/></g>
<rect x="502.2" y="288.2" width="52.2" height="12.8" fill="#595959"/>
<rect x="939.8" y="774.2" width="52.0" height="13.6" fill="#595959"/>
<rect x="1365.5" y="551.0" width="52.5" height="13.3" fill="#595959"/>
<rect x="1829.2" y="902.5" width="52.6" height="13.7" fill="#595959"/>
</g>
<g id="panelB">
<rect x="240.4" y="1891.8" width="99.2" height="218.5" fill="#ebb5b5"/>
<rect x="339.6" y="1867.5" width="99.6" height="242.8" fill="#d76e6e"/>
<rect x="439.2" y="1805.6" width="99.6" height="304.7" fill="#bf0e0e"/>
<rect x="687.7" y="1921.0" width="99.2" height="189.3" fill="#ebb5b5"/>
<rect x="786.9" y="1898.3" width="99.3" height="212.0" fill="#d76e6e"/>
<rect x="886.2" y="1831.8" width="99.6" height="278.5" fill="#bf0e0e"/>
<rect x="1135.0" y="1932.5" width="99.2" height="177.8" fill="#ebb5b5"/>
<rect x="1234.2" y="1934.0" width="99.2" height="176.3" fill="#d76e6e"/>
<rect x="1333.4" y="1523.5" width="99.7" height="586.8" fill="#bf0e0e"/>
<rect x="1582.0" y="2059.5" width="99.7" height="50.8" fill="#ebb5b5"/>
<rect x="1681.7" y="2065.6" width="99.3" height="44.7" fill="#d76e6e"/>
<rect x="1781.0" y="2044.0" width="99.5" height="66.3" fill="#bf0e0e"/>
<path d="M166.1 1471.4V2110.5H1953" stroke="#141414" stroke-width="2.1" fill="none" stroke-linejoin="round"/>
<path d="M166.1 2042.2h17.5M166.1 1928.2h17.5M166.1 1814.2h17.5M166.1 1700.2h17.5M166.1 1586.2h17.5M166.1 1472.2h17.5" stroke="#1a1a1a" stroke-width="1.6" fill="none"/>
<path d="M389.6 2110.3v-13M836.7 2110.3v-13M1284.0 2110.3v-13M1731.3 2110.3v-13" stroke="#3a1010" stroke-width="1.6" fill="none"/>
<text class="tk" x="158.3" y="2050.5">0.5</text>
<text class="tk" x="158.3" y="1936.5">1</text>
<text class="tk" x="158.3" y="1822.5">1.5</text>
<text class="tk" x="158.3" y="1708.5">2</text>
<text class="tk" x="158.3" y="1594.5">2.5</text>
<text class="tk" x="158.3" y="1480.5">3</text>
<path d="M290.4 1873.0V1910.0" stroke="#000" stroke-width="4.0" fill="none"/>
<path d="M276.7 1873.0h27.4M276.7 1910.0h27.4" stroke="#000" stroke-width="3.7" fill="none"/>
<path d="M389.6 1859.5V1875.0" stroke="#000" stroke-width="4.0" fill="none"/>
<path d="M375.9 1859.5h27.4M375.9 1875.0h27.4" stroke="#000" stroke-width="3.7" fill="none"/>
<path d="M488.8 1779.5V1832.5" stroke="#000" stroke-width="4.0" fill="none"/>
<path d="M475.1 1779.5h27.4M475.1 1832.5h27.4" stroke="#000" stroke-width="3.7" fill="none"/>
<path d="M737.3 1910.6V1931.4" stroke="#000" stroke-width="4.0" fill="none"/>
<path d="M723.6 1910.6h27.4M723.6 1931.4h27.4" stroke="#000" stroke-width="3.7" fill="none"/>
<path d="M836.9 1893.3V1903.0" stroke="#000" stroke-width="4.0" fill="none"/>
<path d="M823.2 1893.3h27.4M823.2 1903.0h27.4" stroke="#000" stroke-width="3.7" fill="none"/>
<path d="M936.2 1827.2V1836.8" stroke="#000" stroke-width="4.0" fill="none"/>
<path d="M922.5 1827.2h27.4M922.5 1836.8h27.4" stroke="#000" stroke-width="3.7" fill="none"/>
<path d="M1184.6 1915.6V1949.0" stroke="#000" stroke-width="4.0" fill="none"/>
<path d="M1170.9 1915.6h27.4M1170.9 1949.0h27.4" stroke="#000" stroke-width="3.7" fill="none"/>
<path d="M1284.0 1928.0V1938.7" stroke="#000" stroke-width="4.0" fill="none"/>
<path d="M1270.3 1928.0h27.4M1270.3 1938.7h27.4" stroke="#000" stroke-width="3.7" fill="none"/>
<path d="M1383.5 1512.3V1535.0" stroke="#000" stroke-width="4.0" fill="none"/>
<path d="M1369.8 1512.3h27.4M1369.8 1535.0h27.4" stroke="#000" stroke-width="3.7" fill="none"/>
<path d="M1631.7 2055.6V2063.0" stroke="#000" stroke-width="4.0" fill="none"/>
<path d="M1618.0 2055.6h27.4M1618.0 2063.0h27.4" stroke="#000" stroke-width="3.7" fill="none"/>
<path d="M1731.3 2061.0V2069.8" stroke="#000" stroke-width="4.0" fill="none"/>
<path d="M1717.6 2061.0h27.4M1717.6 2069.8h27.4" stroke="#000" stroke-width="3.7" fill="none"/>
<path d="M1830.5 2041.0V2046.8" stroke="#000" stroke-width="4.0" fill="none"/>
<path d="M1816.8 2041.0h27.4M1816.8 2046.8h27.4" stroke="#000" stroke-width="3.7" fill="none"/>
<path d="M738.0 1809.3V1801.8H935.4V1809.3" stroke="#555" stroke-width="1.7" fill="none" stroke-linejoin="round"/>
<text class="st" rotate="90" x="806.9" y="1783.6">***</text>
<path d="M737.3 1863.5V1856.0H835.8V1863.5" stroke="#555" stroke-width="1.7" fill="none" stroke-linejoin="round"/>
<text class="st" rotate="90" x="769.7" y="1837.8">*</text>
<path d="M1181.5 1456.3V1448.8H1378.0V1456.3" stroke="#555" stroke-width="1.7" fill="none" stroke-linejoin="round"/>
<text class="st" rotate="90" x="1245.3" y="1430.6">***</text>
<path d="M1278.5 1492.9V1485.4H1377.0V1492.9" stroke="#555" stroke-width="1.7" fill="none" stroke-linejoin="round"/>
<text class="st" rotate="90" x="1293.3" y="1467.2">***</text>
<path d="M1731.3 2028.9V2021.4H1830.2V2028.9" stroke="#555" stroke-width="1.7" fill="none" stroke-linejoin="round"/>
<text class="st" rotate="90" x="1755.1" y="2003.2">**</text>
<text class="ses" x="393.2" y="2166">Session 1A</text>
<text class="ses" x="839.0" y="2166">Session 1B</text>
<text class="ses" x="1285.0" y="2166">Session 2A</text>
<text class="ses" x="1744.7" y="2166">Session 2B</text>
<text class="yl" transform="translate(91.5 1783.5) rotate(-90)">gamma power (relative to baseline)</text>
<text class="pl" x="1.6" y="1398">B</text>
<text class="ttl" x="48.8" y="1402.8">Frontal gamma (30-80 Hz)</text>
</g>
</svg></body></html>
